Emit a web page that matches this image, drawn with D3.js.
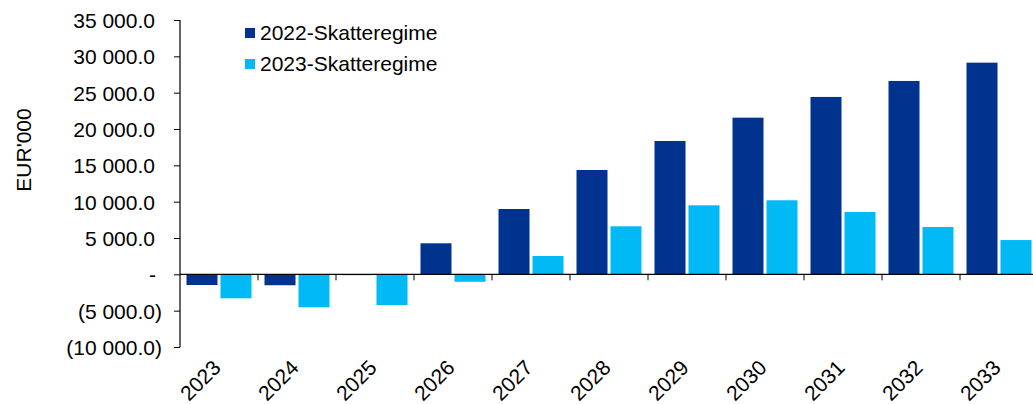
<!DOCTYPE html>
<html>
<head>
<meta charset="utf-8">
<script src="https://cdn.jsdelivr.net/npm/d3@7/dist/d3.min.js"></script>
<style>
  html, body { margin: 0; padding: 0; background: #ffffff; overflow: hidden; }
  svg { display: block; font-family: "Liberation Sans", Arial, sans-serif; }
</style>
</head>
<body>
<svg id="chart" width="1033" height="404"></svg>
<script>
// Annual result by tax regime, EUR'000
const years = ["2023","2024","2025","2026","2027","2028","2029","2030","2031","2032","2033"];
const seriesNames = ["2022-Skatteregime", "2023-Skatteregime"];
const regime2022 = [-1470, -1500, -60, 4270, 8990, 14360, 18350, 21560, 24410, 26610, 29130];
const regime2023 = [-3300, -4540, -4230, -1020, 2520, 6610, 9500, 10190, 8580, 6510, 4720];
const yTicks = [-10000, -5000, 0, 5000, 10000, 15000, 20000, 25000, 30000, 35000];
const colors = ["#00338d", "#00b9f5"];

const svg = d3.select("#chart");
const fontSize = 21;

const plotLeft = 180, plotRight = 1038, plotTop = 20, plotBottom = 347;

const y = d3.scaleLinear().domain([-10000, 35000]).range([plotBottom, plotTop]);

const x0 = d3.scaleBand().domain(years).range([plotLeft, plotRight])
  .paddingInner(13 / 78).paddingOuter(6.5 / 78);
const x1 = d3.scaleBand().domain(seriesNames).range([0, x0.bandwidth()])
  .paddingInner(0.088);

const rows = years.map((yr, i) => ({ year: yr, values: [regime2022[i], regime2023[i]] }));

// Bars
const groups = svg.append("g").selectAll("g").data(rows).join("g")
  .attr("transform", d => `translate(${x0(d.year)},0)`);
groups.selectAll("rect")
  .data(d => d.values.map((v, k) => ({ key: seriesNames[k], value: v, k })))
  .join("rect")
  .attr("x", d => x1(d.key))
  .attr("width", x1.bandwidth())
  .attr("y", d => y(Math.max(0, d.value)))
  .attr("height", d => Math.max(0.8, Math.abs(y(d.value) - y(0))))
  .attr("fill", d => colors[d.k]);

// Y axis
const fmtNum = d3.format(",.1f");
function accounting(v) {
  if (v === 0) return "-";
  const s = fmtNum(Math.abs(v)).replace(/,/g, "\u00a0");
  return v < 0 ? `(${s})` : s;
}
const yAxis = d3.axisLeft(y).tickValues(yTicks).tickSize(6).tickPadding(0).tickFormat(accounting);
const gy = svg.append("g").attr("transform", `translate(${plotLeft},0)`).call(yAxis);
gy.select(".domain").attr("stroke", "#000").attr("stroke-width", 1.2).attr("d", `M0,${plotTop}V${plotBottom}`);
gy.selectAll(".tick line").attr("stroke", "#000");
gy.selectAll(".tick text")
  .attr("fill", "#000")
  .attr("font-size", fontSize)
  .attr("dy", "0.35em")
  .attr("x", d => d < 0 ? -18 : (d === 0 ? -24 : -25));

// Zero baseline with ticks at category boundaries
const step = x0.step();
const boundaries = years.slice(1).map(yr => x0(yr) - step * x0.paddingInner() / 2);
svg.append("line")
  .attr("x1", plotLeft).attr("x2", 1033)
  .attr("y1", y(0)).attr("y2", y(0))
  .attr("stroke", "#000").attr("stroke-width", 1.2);
svg.append("g").selectAll("line").data(boundaries).join("line")
  .attr("x1", d => d).attr("x2", d => d)
  .attr("y1", y(0)).attr("y2", y(0) + 6)
  .attr("stroke", "#000");

// Category labels, rotated
svg.append("g").selectAll("text").data(years).join("text")
  .attr("transform", d => `translate(${x0(d) + x0.bandwidth() / 2 + 3},369) rotate(-45)`)
  .attr("text-anchor", "end")
  .attr("font-size", fontSize)
  .attr("fill", "#000")
  .text(d => d);

// Y axis title
svg.append("text")
  .attr("transform", "translate(31,150) rotate(-90)")
  .attr("text-anchor", "middle")
  .attr("font-size", fontSize)
  .attr("fill", "#000")
  .text("EUR'000");

// Legend
const legend = svg.append("g").selectAll("g").data(seriesNames).join("g")
  .attr("transform", (d, i) => `translate(245,${33 + i * 31})`);
legend.append("rect")
  .attr("x", 0).attr("y", -5).attr("width", 10).attr("height", 10)
  .attr("fill", (d, i) => colors[i]);
legend.append("text")
  .attr("x", 15).attr("dy", "0.35em")
  .attr("font-size", fontSize)
  .attr("fill", "#000")
  .text(d => d);
</script>
</body>
</html>
